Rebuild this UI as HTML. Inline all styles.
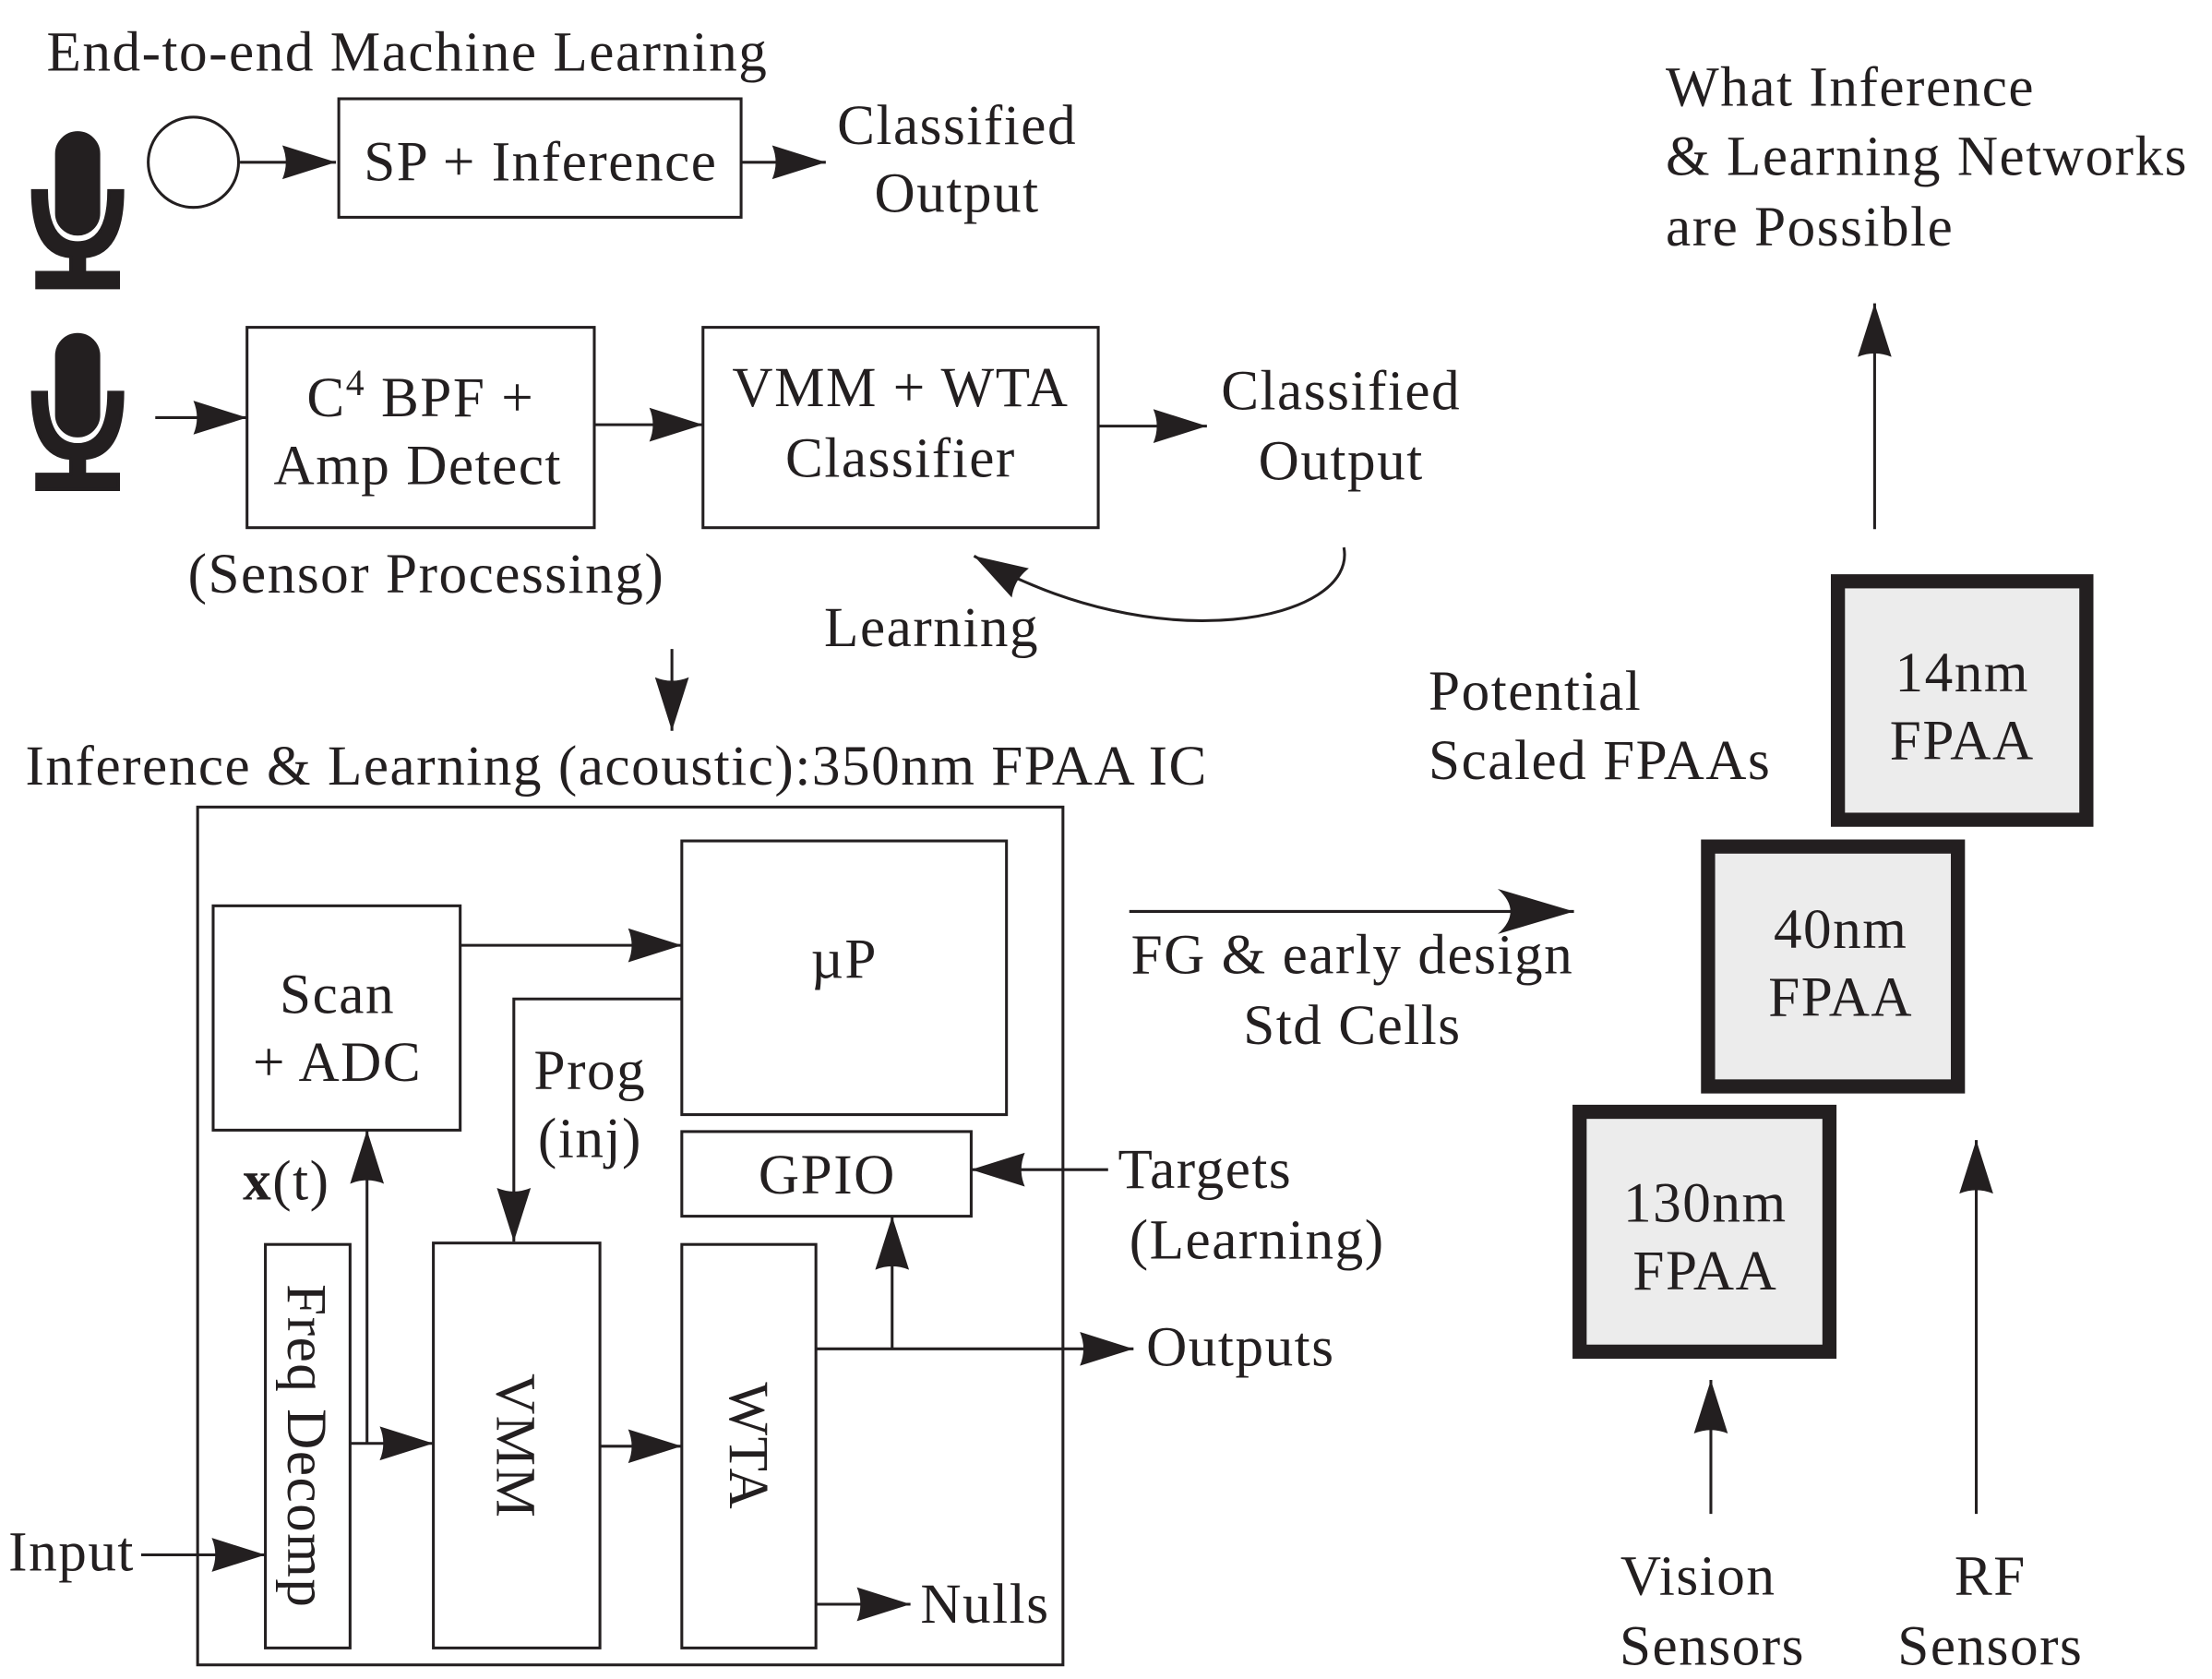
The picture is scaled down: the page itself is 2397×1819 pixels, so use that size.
<!DOCTYPE html>
<html><head><style>html,body{margin:0;padding:0;background:#fff}svg{display:block}</style></head>
<body>
<svg width="2397" height="1819" viewBox="0 0 1567 1190" preserveAspectRatio="none" xmlns="http://www.w3.org/2000/svg" font-family="'Liberation Serif', serif" font-size="40" letter-spacing="1" fill="#231f20">
<defs>
<marker id="a" markerWidth="40" markerHeight="26" refX="38" refY="13" orient="auto" markerUnits="userSpaceOnUse">
<path d="M0,1 L38,13 L0,25 Q5,13 0,1 Z" fill="#231f20"/></marker>
<marker id="b" markerWidth="56" markerHeight="34" refX="54" refY="17" orient="auto" markerUnits="userSpaceOnUse">
<path d="M0,1 L54,17 L0,33 Q18,17 0,1 Z" fill="#231f20"/></marker>
<g id="mic">
<rect x="40" y="94" width="30" height="72" rx="15" fill="#231f20"/>
<path d="M23,135 L33,135 Q33,172 55,172 Q77,172 77,135 L87,135 Q87,180 60,182 L60,193 L84,193 L84,204 L26,204 L26,193 L50,193 L50,182 Q23,180 23,135 Z" fill="#231f20"/>
</g>
</defs>
<g stroke="#231f20" stroke-width="2" fill="none">
<use href="#mic"/>
<use href="#mic" y="143"/>
<circle cx="137" cy="115" r="32"/>
<line x1="170" y1="115" x2="238" y2="115" marker-end="url(#a)"/>
<rect x="240" y="70" width="285" height="84"/>
<line x1="525" y1="115" x2="585" y2="115" marker-end="url(#a)"/>
<line x1="110" y1="296" x2="175" y2="296" marker-end="url(#a)"/>
<rect x="175" y="232" width="246" height="142"/>
<line x1="421" y1="301" x2="498" y2="301" marker-end="url(#a)"/>
<rect x="498" y="232" width="280" height="142"/>
<line x1="778" y1="302" x2="855" y2="302" marker-end="url(#a)"/>
<path d="M952,388 C962,440 820,470 690,394" marker-end="url(#a)"/>
<line x1="476" y1="460" x2="476" y2="518" marker-end="url(#a)"/>
<rect x="140" y="572" width="613" height="608"/>
<rect x="483" y="596" width="230" height="194"/>
<rect x="151" y="642" width="175" height="159"/>
<line x1="326" y1="670" x2="483" y2="670" marker-end="url(#a)"/>
<polyline points="483,708 364,708 364,880" marker-end="url(#a)"/>
<rect x="483" y="802" width="205" height="60"/>
<line x1="785" y1="829" x2="688" y2="829" marker-end="url(#a)"/>
<rect x="188" y="882" width="60" height="286"/>
<rect x="307" y="881" width="118" height="287"/>
<rect x="483" y="882" width="95" height="286"/>
<line x1="100" y1="1102" x2="188" y2="1102" marker-end="url(#a)"/>
<line x1="248" y1="1023" x2="307" y2="1023" marker-end="url(#a)"/>
<line x1="260" y1="1023" x2="260" y2="801" marker-end="url(#a)"/>
<line x1="425" y1="1025" x2="483" y2="1025" marker-end="url(#a)"/>
<line x1="578" y1="956" x2="803" y2="956" marker-end="url(#a)"/>
<line x1="632" y1="956" x2="632" y2="862" marker-end="url(#a)"/>
<line x1="578" y1="1137" x2="645" y2="1137" marker-end="url(#a)"/>
<line x1="800" y1="646" x2="1115" y2="646" marker-end="url(#b)"/>
<line x1="1328" y1="375" x2="1328" y2="215" marker-end="url(#a)"/>
<line x1="1212" y1="1073" x2="1212" y2="978" marker-end="url(#a)"/>
<line x1="1400" y1="1073" x2="1400" y2="808" marker-end="url(#a)"/>
</g>
<g stroke="#231f20" stroke-width="10" fill="#ececec">
<rect x="1302" y="412" width="176" height="169"/>
<rect x="1210" y="600" width="177" height="170"/>
<rect x="1119" y="788" width="177" height="170"/>
</g>
<g text-anchor="middle">
<text x="383" y="128">SP + Inference</text>
<text x="678" y="102">Classified</text><text x="678" y="150">Output</text>
<text x="298" y="295">C<tspan font-size="26" dy="-15">4</tspan><tspan dy="15"> BPF +</tspan></text>
<text x="296" y="343">Amp Detect</text>
<text x="638" y="288">VMM + WTA</text><text x="638" y="338">Classifier</text>
<text x="950" y="290">Classified</text><text x="950" y="340">Output</text>
<text x="302" y="420">(Sensor Processing)</text>
<text x="660" y="458">Learning</text>
<text x="598" y="693">µP</text>
<text x="239" y="718">Scan</text><text x="239" y="766">+ ADC</text>
<text x="418" y="772">Prog</text><text x="418" y="820">(inj)</text>
<text x="586" y="846">GPIO</text>
<text transform="translate(204,1025) rotate(90)">Freq Decomp</text>
<text transform="translate(352,1025) rotate(90)">VMM</text>
<text transform="translate(517,1025) rotate(90)">WTA</text>
<text x="958" y="690">FG &amp; early design</text><text x="958" y="740">Std Cells</text>
<text x="1390" y="490">14nm</text><text x="1390" y="538">FPAA</text>
<text x="1304" y="672">40nm</text><text x="1304" y="720">FPAA</text>
<text x="1208" y="866">130nm</text><text x="1208" y="914">FPAA</text>
<text x="1203" y="1130">Vision</text><text x="1213" y="1180">Sensors</text>
<text x="1410" y="1130">RF</text><text x="1410" y="1180">Sensors</text>
</g>
<text x="33" y="50">End-to-end Machine Learning</text>
<text x="18" y="556">Inference &amp; Learning (acoustic):350nm FPAA IC</text>
<text x="792" y="842">Targets</text><text x="800" y="892">(Learning)</text>
<text x="172" y="850"><tspan font-weight="bold">x</tspan>(t)</text>
<text x="6" y="1113">Input</text>
<text x="812" y="968">Outputs</text>
<text x="652" y="1150">Nulls</text>
<text x="1012" y="503">Potential</text><text x="1012" y="552">Scaled FPAAs</text>
<text x="1180" y="75">What Inference</text><text x="1180" y="124">&amp; Learning Networks</text><text x="1180" y="174">are Possible</text>
</svg>
</body></html>
